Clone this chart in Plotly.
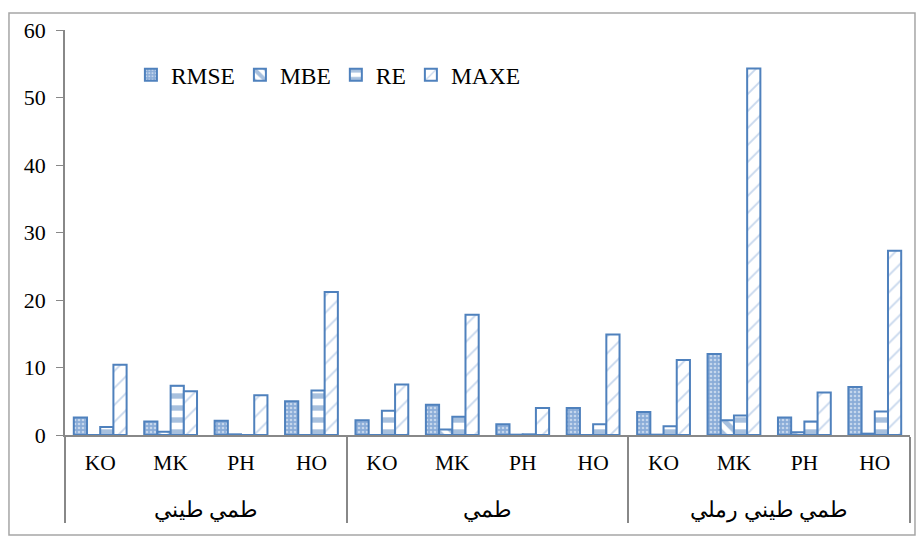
import plotly.graph_objects as go

groups = ["طمي طيني", "طمي", "طمي طيني رملي"]
models = ["KO", "MK", "PH", "HO"]

rmse = [2.6, 2.0, 2.1, 5.0, 2.2, 4.5, 1.6, 4.0, 3.4, 12.0, 2.6, 7.1]
mbe = [-0.2, 0.5, 0.1, -0.1, -0.2, 0.8, 0.05, -0.1, 0.05, 2.2, 0.4, 0.2]
re = [1.2, 7.3, -0.1, 6.6, 3.6, 2.7, 0.1, 1.6, 1.3, 2.9, 2.0, 3.5]
maxe = [10.4, 6.5, 5.9, 21.2, 7.5, 17.8, 4.0, 14.9, 11.1, 54.3, 6.3, 27.3]

outer = ["<br>" + g for g in groups for _ in models]
inner = [m for _ in groups for m in models]

BLUE = "#4F81BD"
FONT = "Liberation Serif"

fig = go.Figure()
specs = [
    ("RMSE", rmse, dict(shape=".", bgcolor="#8AACD8", fgcolor="white", size=4, solidity=0.35)),
    ("MBE", mbe, dict(shape="\\", bgcolor="white", fgcolor=BLUE, size=10, solidity=0.5)),
    ("RE", re, dict(shape="-", bgcolor="white", fgcolor=BLUE, size=12, solidity=0.45)),
    ("MAXE", maxe, dict(shape="/", bgcolor="white", fgcolor="#8FB0DA", size=12, solidity=0.15)),
]
for name, vals, pat in specs:
    fig.add_trace(go.Bar(
        name=name, x=[outer, inner], y=vals,
        marker=dict(color="white", line=dict(color=BLUE, width=2), pattern=pat),
    ))

fig.update_layout(
    width=924, height=542,
    margin=dict(l=65, r=14, t=30, b=107),
    paper_bgcolor="white", plot_bgcolor="white",
    barmode="group", bargap=0.25, bargroupgap=0,
    font=dict(family=FONT, size=22, color="black"),
    showlegend=True,
    legend=dict(orientation="h", x=0.078, y=0.889, xanchor="left", yanchor="middle",
                bgcolor="rgba(0,0,0,0)", font=dict(size=23.5, family=FONT),
                itemwidth=30, tracegroupgap=0),
    shapes=[dict(type="rect", xref="paper", yref="paper",
                 x0=-0.0663, x1=1.0059, y0=-0.247, y1=1.042,
                 line=dict(color="#A6A6A6", width=1.5), fillcolor="rgba(0,0,0,0)")],
)
fig.update_yaxes(range=[0, 60], dtick=10, showgrid=False, zeroline=False,
                 showline=True, linecolor="#888888", linewidth=1.5,
                 ticks="outside", ticklen=7, tickcolor="#888888",
                 ticklabelstandoff=6,
                 tickfont=dict(size=22, family=FONT))
fig.update_xaxes(showline=True, linecolor="#888888", linewidth=1.5,
                 showgrid=False, ticks="", showdividers=True,
                 dividercolor="#888888", dividerwidth=1.5,
                 ticklabelstandoff=7,
                 tickfont=dict(size=21.5, family=FONT))

fig.write_html("out.html")
